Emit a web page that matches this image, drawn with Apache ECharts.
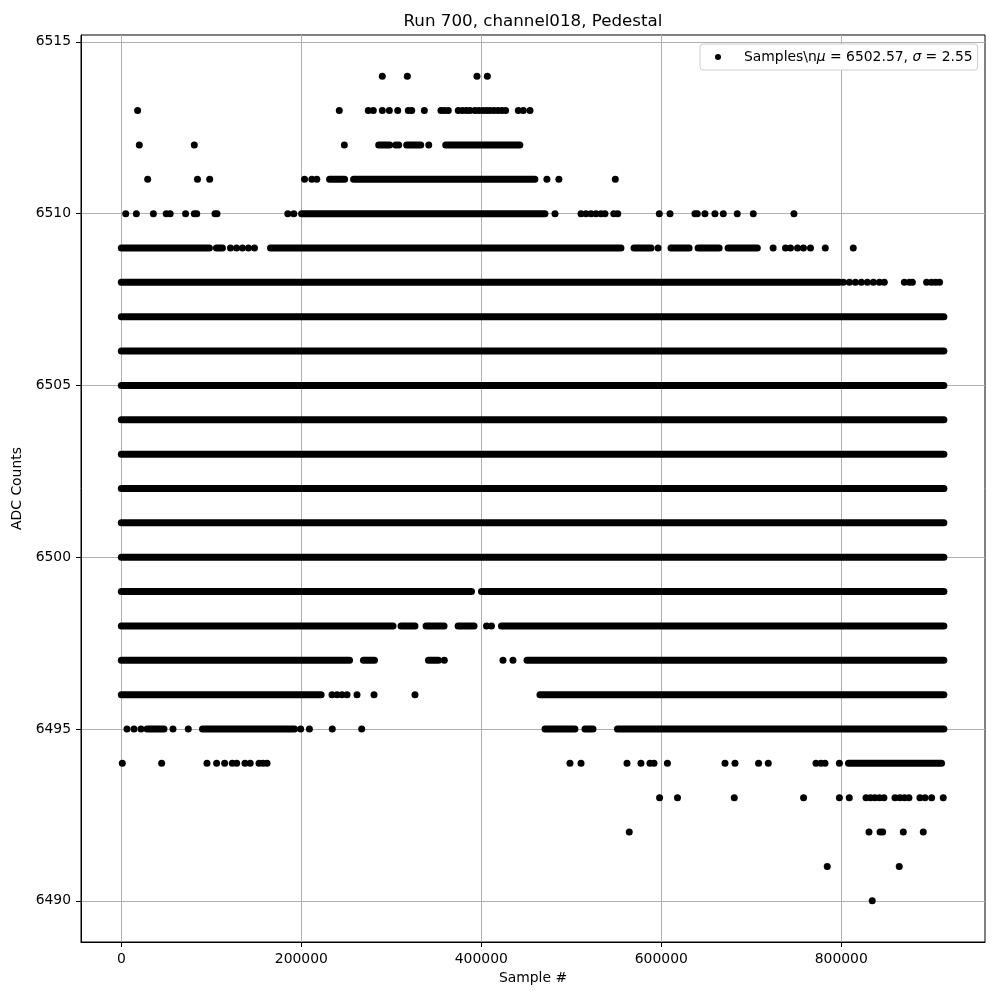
<!DOCTYPE html>
<html><head><meta charset="utf-8">
<script src="https://cdn.jsdelivr.net/npm/echarts@6/dist/echarts.min.js"></script>
<style>html,body{margin:0;padding:0;background:#fff}#c{width:1000px;height:1000px}</style>
</head><body><div id="c"></div>
<script>
const chartTitle = 'Run 700, channel018, Pedestal';
const xName = 'Sample #';
const yName = 'ADC Counts';
const xTicks = [0, 200000, 400000, 600000, 800000];
const yTicks = [6490, 6495, 6500, 6505, 6510, 6515];
const seriesName = 'Samples\\nμ = 6502.57, σ = 2.55';
const levels = [6490, 6491, 6492, 6493, 6494, 6495, 6496, 6497, 6498, 6499, 6500, 6501, 6502,
  6503, 6504, 6505, 6506, 6507, 6508, 6509, 6510, 6511, 6512, 6513, 6514];

// isolated samples: sample numbers at each ADC level
const iso6514 = [290000, 317800, 395200, 406700];
const iso6513 = [18100, 242200, 274400, 280000, 290000, 297800, 307100, 318900, 322700, 336700, 355200, 359100, 363300,
  374400, 379000, 383500, 387500, 393000, 397400, 401900, 406000, 409700, 414100, 418600, 423000, 427000, 441100, 446700, 454100];
const iso6512 = [20000, 81100, 247800, 305000, 308200, 341600];
const iso6511 = [29300, 84600, 98200, 203600, 211700, 217200, 472900, 486200, 548900];
const iso6510 = [4900, 16700, 35600, 49900, 54300, 71400, 81100, 83800, 104100, 106300, 185000, 191700, 481900,
  510800, 516300, 521900, 527400, 533000, 537400, 547200, 551600, 597800, 609700, 637400, 640000, 648500, 659600,
  668900, 684400, 702200, 747400];
const iso6509 = [121300, 128000, 134600, 141300, 148000, 596400, 724300, 738000, 743600, 751400, 758000, 765800, 782200, 813300];
const iso6508 = [802300, 809000, 815600, 822300, 829000, 835700, 842300, 847800, 870100, 875700, 879000, 894800, 900300, 904800, 909200];
const iso6498 = [405800, 411300];
const iso6497 = [358900, 424100, 435200];
const iso6496 = [234100, 239700, 245200, 250800, 261900, 280800, 326300];
const iso6495 = [6300, 14100, 21900, 57400, 74400, 199300, 209000, 234400, 267100];
const iso6494 = [1100, 44800, 95200, 105900, 114800, 123300, 128200, 137400, 143200, 153000, 157500, 161900, 498500,
  510800, 561900, 577400, 587400, 591900, 606800, 670800, 681900, 708100, 718900, 771900, 777400, 781900, 797900];
const iso6493 = [598100, 618000, 681100, 758100, 797900, 808900, 827500, 832500, 837400, 842400, 847400, 859700,
  865200, 870200, 875200, 887400, 893000, 900400, 913300];
const iso6492 = [564400, 830800, 843100, 846000, 868900, 891100];
const iso6491 = [784400, 864400];
const iso6490 = [834400];

// dense runs of consecutive samples: [first sample, last sample] at each ADC level
const run6512 = [[286000, 298200], [317100, 332700], [360500, 442800]];
const run6511 = [[231400, 248100], [258100, 459500]];
const run6510 = [[200300, 470700]];
const run6509 = [[0, 97900], [105700, 112400], [165800, 555200], [569700, 588600], [610800, 630900], [640900, 664300], [674200, 706700]];
const run6508 = [[0, 797800]];
const run6507 = [[0, 914000]];
const run6506 = [[0, 914000]];
const run6505 = [[0, 914000]];
const run6504 = [[0, 914000]];
const run6503 = [[0, 914000]];
const run6502 = [[0, 914000]];
const run6501 = [[0, 914000]];
const run6500 = [[0, 914000]];
const run6499 = [[0, 389100], [400200, 914000]];
const run6498 = [[0, 301900], [310800, 326300], [338600, 358600], [374200, 391900], [422400, 914000]];
const run6497 = [[0, 253600], [269100, 281300], [341300, 352400], [450800, 914000]];
const run6496 = [[0, 222000], [465200, 914000]];
const run6495 = [[28600, 47400], [90200, 192400], [470800, 504000], [515200, 524100], [551300, 914000]];
const run6494 = [[808000, 911400]];

const isoByLevel = {6514: iso6514, 6513: iso6513, 6512: iso6512, 6511: iso6511, 6510: iso6510, 6509: iso6509,
  6508: iso6508, 6498: iso6498, 6497: iso6497, 6496: iso6496, 6495: iso6495, 6494: iso6494, 6493: iso6493,
  6492: iso6492, 6491: iso6491, 6490: iso6490};
const runByLevel = {6512: run6512, 6511: run6511, 6510: run6510, 6509: run6509, 6508: run6508, 6507: run6507,
  6506: run6506, 6505: run6505, 6504: run6504, 6503: run6503, 6502: run6502, 6501: run6501, 6500: run6500,
  6499: run6499, 6498: run6498, 6497: run6497, 6496: run6496, 6495: run6495, 6494: run6494};

const pointData = [];
const runData = [];
levels.forEach(function (lv) {
  (isoByLevel[lv] || []).forEach(function (x) { pointData.push([x, lv]); });
  (runByLevel[lv] || []).forEach(function (r) { runData.push([r[0], r[1], lv]); });
});

const FONT = 'DejaVu Sans';
const DOT = 7;
const chart = echarts.init(document.getElementById('c'), null, {renderer: 'canvas'});
chart.setOption({
  animation: false,
  backgroundColor: '#fff',
  title: {
    text: chartTitle, left: 528, top: 8, textAlign: 'center',
    textStyle: {fontFamily: FONT, fontSize: 16.7, fontWeight: 'normal', color: '#000'}
  },
  legend: {
    data: [seriesName], left: 700, top: 44, orient: 'vertical',
    icon: 'circle', itemWidth: 6, itemHeight: 6,
    itemStyle: {opacity: 1, color: '#000'},
    backgroundColor: '#fff', borderColor: '#cccccc', borderWidth: 1, borderRadius: 3,
    padding: [6, 5, 6, 15],
    formatter: function () {
      return '{s|}{t|Samples\\n}{i|μ}{t| = 6502.57, }{i|σ}{t| = 2.55}';
    },
    textStyle: {
      fontFamily: FONT, fontSize: 13.9, color: '#000',
      rich: {
        s: {width: 18},
        t: {fontFamily: FONT, fontSize: 13.9, color: '#000', lineHeight: 16},
        i: {fontFamily: FONT, fontSize: 13.9, color: '#000', fontStyle: 'italic', lineHeight: 16}
      }
    }
  },
  grid: {left: 81, right: 15, top: 35, bottom: 58, show: true, borderColor: '#000', borderWidth: 1, backgroundColor: 'transparent'},
  xAxis: {
    type: 'value', min: -44800, max: 959700,
    name: xName, nameLocation: 'middle', nameGap: 28,
    nameTextStyle: {fontFamily: FONT, fontSize: 13.9, color: '#000'},
    axisLine: {show: true, onZero: false, lineStyle: {color: '#000', width: 1}},
    axisTick: {show: true, length: 5, customValues: xTicks, lineStyle: {color: '#000'}},
    axisLabel: {customValues: xTicks, margin: 10, fontFamily: FONT, fontSize: 13.9, color: '#000',
      formatter: function (v) { return String(v); }},
    splitLine: {show: true, lineStyle: {color: '#b0b0b0', width: 1}}
  },
  yAxis: {
    type: 'value', min: 6488.8, max: 6515.2,
    name: yName, nameLocation: 'middle', nameGap: 47,
    nameTextStyle: {fontFamily: FONT, fontSize: 13.9, color: '#000'},
    axisLine: {show: true, onZero: false, lineStyle: {color: '#000', width: 1}},
    axisTick: {show: true, length: 5, customValues: yTicks, lineStyle: {color: '#000'}},
    axisLabel: {customValues: yTicks, margin: 10, fontFamily: FONT, fontSize: 13.9, color: '#000',
      formatter: function (v) { return String(v); }},
    splitLine: {show: true, lineStyle: {color: '#b0b0b0', width: 1}}
  },
  series: [
    {
      name: 'dense', type: 'custom', clip: true,
      encode: {x: [0, 1], y: 2},
      data: runData,
      renderItem: function (params, api) {
        const y = api.value(2);
        const a = api.coord([api.value(0), y]);
        const b = api.coord([api.value(1), y]);
        return {type: 'line', shape: {x1: a[0], y1: a[1], x2: b[0], y2: b[1]},
          style: {stroke: '#000', lineWidth: DOT, lineCap: 'round'}};
      }
    },
    {
      name: seriesName, type: 'scatter', symbol: 'circle', symbolSize: DOT,
      itemStyle: {color: '#000', opacity: 1}, data: pointData
    }
  ]
});
</script></body></html>
